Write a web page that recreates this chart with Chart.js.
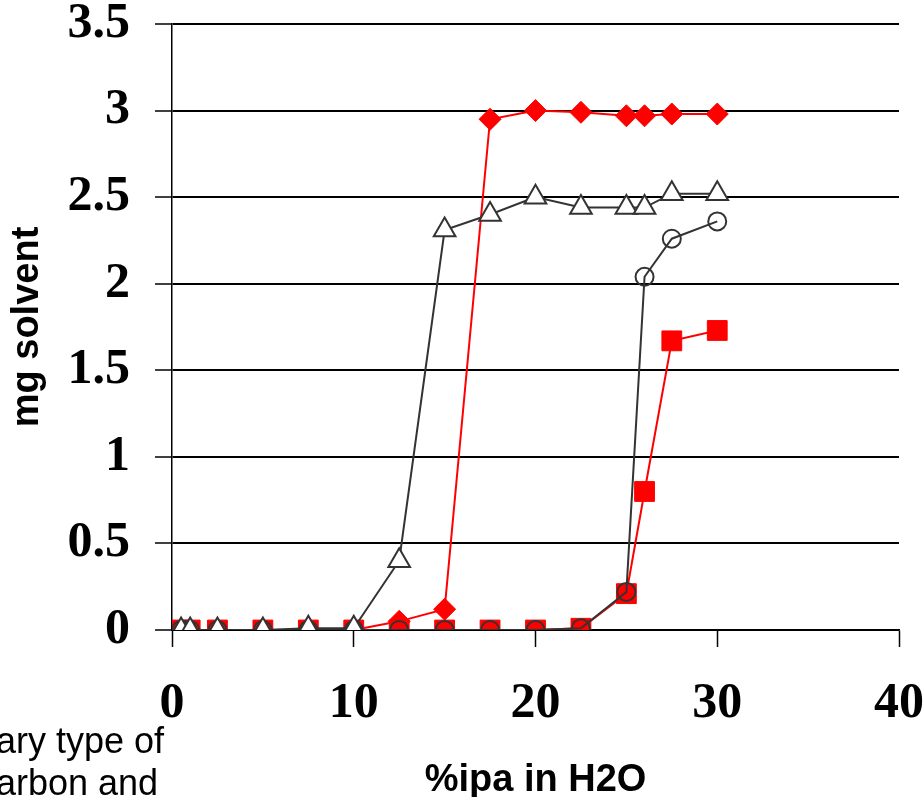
<!DOCTYPE html>
<html>
<head>
<meta charset="utf-8">
<script src="https://cdn.jsdelivr.net/npm/chart.js@4"></script>
<style>
  body { margin: 0; background: #fff; }
  #wrap { position: relative; width: 923px; height: 797px; overflow: hidden; }
  #note {
    position: absolute; left: -4px; top: 720px;
    font: 36px "Liberation Sans", Arial, sans-serif; line-height: 42px;
    color: #000; white-space: nowrap;
  }
</style>
</head>
<body>
<div id="wrap">
  <canvas id="chart"></canvas>
  <div id="note">ary type of<br>arbon and</div>
</div>
<script>
// %ipa in H2O for each series
const ipaDiamond = [0.5, 1, 2.5, 5, 7.5, 10, 12.5, 15, 17.5, 20, 22.5, 25, 26, 27.5, 30];
const ipaTriangle = [0.5, 1, 2.5, 5, 7.5, 10, 12.5, 15, 17.5, 20, 22.5, 25, 26, 27.5, 30];
const ipaCircle = [0.5, 0.8, 1, 2.5, 5, 7.5, 10, 12.5, 15, 17.5, 20, 22.5, 25, 26, 27.5, 30];
const ipaSquare = [0.5, 1, 2.5, 5, 7.5, 10, 12.5, 15, 17.5, 20, 22.5, 25, 26, 27.5, 30];

// mg solvent
const mgDiamond = [0, 0, 0, 0, 0, 0, 0.05, 0.12, 2.95, 3.0, 2.99, 2.97, 2.97, 2.98, 2.98];
const mgTriangle = [0, 0, 0, 0, 0.01, 0.01, 0.4, 2.31, 2.4, 2.5, 2.44, 2.44, 2.44, 2.52, 2.52];
const mgCircle = [0, 0, 0, 0, 0, 0, 0, 0, 0, 0, 0, 0.01, 0.22, 2.04, 2.26, 2.36];
const mgSquare = [0, 0, 0, 0, 0, 0, 0, 0, 0, 0, 0.01, 0.21, 0.8, 1.67, 1.73];

const xTicks = [0, 10, 20, 30, 40];
const yTicks = [0, 0.5, 1, 1.5, 2, 2.5, 3, 3.5];

const pairs = (xs, ys) => xs.map((x, i) => ({ x: x, y: ys[i] }));

const tickFont = { family: "'Liberation Serif', 'Times New Roman', serif", size: 50, weight: "bold", lineHeight: 1 };
const titleFont = { family: "'Liberation Sans', Arial, sans-serif", size: 38, weight: "bold", lineHeight: 1 };

new Chart(document.getElementById("chart"), {
    type: "line",
    data: {
        datasets: [
            {
                data: pairs(ipaTriangle, mgTriangle),
                borderColor: "#333",
                borderWidth: 2,
                pointStyle: "triangle",
                pointRadius: 12.5,
                pointBackgroundColor: "#fff",
                pointBorderColor: "#333",
                pointBorderWidth: 2,
                order: 0,
            },
            {
                data: pairs(ipaCircle, mgCircle),
                borderColor: "#333",
                borderWidth: 2,
                pointStyle: "circle",
                pointRadius: 9,
                pointBackgroundColor: "rgba(0,0,0,0)",
                pointBorderColor: "#333",
                pointBorderWidth: 2,
                order: 1,
            },
            {
                data: pairs(ipaDiamond, mgDiamond),
                borderColor: "#ff0000",
                borderWidth: 2,
                pointStyle: "rectRot",
                pointRadius: 11,
                pointBackgroundColor: "#ff0000",
                pointBorderColor: "#ff0000",
                pointBorderWidth: 1,
                order: 2,
            },
            {
                data: pairs(ipaSquare, mgSquare),
                borderColor: "#ff0000",
                borderWidth: 2,
                pointStyle: "rect",
                pointRadius: 14,
                pointBackgroundColor: "#ff0000",
                pointBorderColor: "#ff0000",
                pointBorderWidth: 1,
                order: 3,
            },
        ],
    },
    options: {
        responsive: true,
        maintainAspectRatio: false,
        animation: false,
        layout: { padding: { left: 0, right: 0, top: 0, bottom: 0 } },
        plugins: {
            legend: { display: false },
            tooltip: { enabled: false },
        },
        scales: {
            x: {
                type: "linear",
                min: 0,
                max: 40,
                afterBuildTicks: (scale) => { scale.ticks = xTicks.map((v) => ({ value: v })); },
                afterFit: (scale) => { scale.height = 167; scale.paddingRight = 24; },
                grid: { drawOnChartArea: false, drawTicks: true, tickLength: 17, color: "#000", tickWidth: 1.5 },
                border: { display: true, color: "#000", width: 1.5 },
                ticks: { color: "#000", font: tickFont, padding: 32, maxRotation: 0 },
                title: { display: true, text: "%ipa in H2O", color: "#000", font: titleFont, padding: { top: 0, bottom: -3 } },
            },
            y: {
                type: "linear",
                min: 0,
                max: 3.5,
                afterBuildTicks: (scale) => { scale.ticks = yTicks.map((v) => ({ value: v })); },
                afterFit: (scale) => { scale.width = 172; scale.paddingTop = 24; },
                grid: { color: "#000", lineWidth: 2, tickLength: 17, tickWidth: 1.5, tickColor: "#000" },
                border: { display: true, color: "#000", width: 1.5 },
                ticks: { color: "#000", font: tickFont, padding: 25, callback: (v) => String(v) },
                title: { display: true, text: "mg solvent", color: "#000", font: titleFont, padding: { top: 9, bottom: 0 } },
            },
        },
    },
});
</script>
</body>
</html>
